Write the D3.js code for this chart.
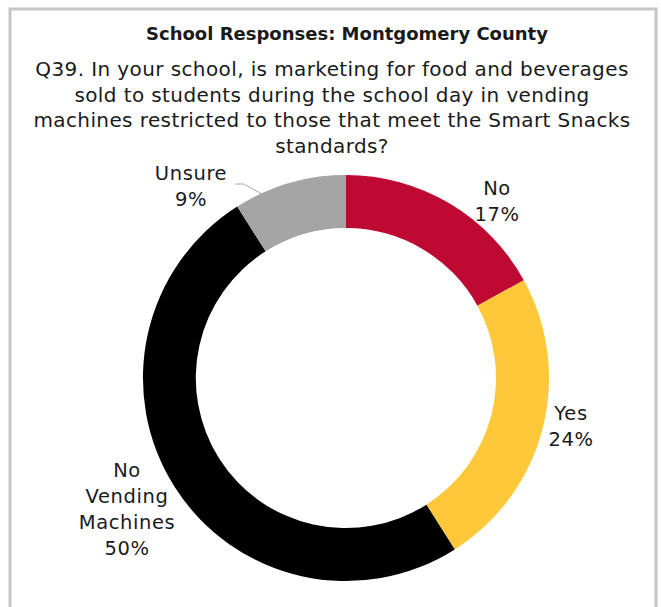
<!DOCTYPE html>
<html lang="en">
<head>
    <meta charset="UTF-8">
    <title>School Responses: Montgomery County</title>
    <script src="https://d3js.org/d3.v7.min.js"></script>
    <style>
        body { margin: 0; background: #fff; }
        text { font-family: "DejaVu Sans", sans-serif; fill: #1a1a1a; }
    </style>
</head>
<body>
<script>
    const width = 661;
    const height = 607;

    // data
    const categories = ["No", "Yes", "No Vending Machines", "Unsure"];
    const values = [17, 24, 50, 9];
    const colors = ["#BE0A33", "#FFC83A", "#000000", "#A5A5A5"];
    const title = "School Responses: Montgomery County";
    const question = [
        "Q39. In your school, is marketing for food and beverages",
        "sold to students during the school day in vending",
        "machines restricted to those that meet the Smart Snacks",
        "standards?"
    ];

    const svg = d3.select("body").append("svg")
            .attr("width", width).attr("height", height);

    // frame
    svg.append("rect")
        .attr("x", 10).attr("y", 9)
        .attr("width", 646).attr("height", 620)
        .attr("fill", "none")
        .attr("stroke", "#c6c6c6")
        .attr("stroke-width", 3);

    svg.append("text")
        .attr("x", 347).attr("y", 40)
        .attr("text-anchor", "middle")
        .style("font-size", "18px")
        .style("font-weight", "bold")
        .text(title);

    svg.selectAll("text.q")
        .data(question)
        .enter()
        .append("text")
        .attr("class", "q")
        .attr("x", 332)
        .attr("y", (d, i) => 76 + i * 25.7)
        .attr("text-anchor", "middle")
        .style("font-size", "20px")
        .style("letter-spacing", "0.4px")
        .text(d => d);

    const cx = 346, cy = 378;
    const outerR = 203, innerR = 150;

    const pie = d3.pie().sort(null).value(d => d.value);
    const arc = d3.arc().innerRadius(innerR).outerRadius(outerR);

    const slices = pie(categories.map((c, i) => ({name: c, value: values[i], color: colors[i]})));

    const g = svg.append("g").attr("transform", `translate(${cx},${cy})`);
    g.selectAll("path.slice")
        .data(slices)
        .enter()
        .append("path")
        .attr("class", "slice")
        .attr("d", arc)
        .attr("fill", d => d.data.color);

    // label positions (relative to centre)
    const labelPos = [
        {x: 151, y: -183, lines: ["No", "17%"]},
        {x: 225, y: 42, lines: ["Yes", "24%"]},
        {x: -219, y: 99, lines: ["No", "Vending", "Machines", "50%"]},
        {x: -155, y: -198, lines: ["Unsure", "9%"]}
    ];

    slices.forEach((s, i) => {
        const p = labelPos[i];
        const t = g.append("text")
            .attr("text-anchor", "middle")
            .style("font-size", "19.5px")
            .style("letter-spacing", "0.6px");
        p.lines.forEach((l, j) => {
            t.append("tspan")
                .attr("x", p.x)
                .attr("y", p.y + j * 26)
                .text(l);
        });
    });

    // leader line for Unsure
    const ang = -24.5 * Math.PI / 180;
    const ep = [Math.sin(ang) * (outerR - 1), -Math.cos(ang) * (outerR - 1)];
    g.append("polyline")
        .attr("points", [[-111, -194], [-102, -194], ep].map(p => p.join(",")).join(" "))
        .attr("fill", "none")
        .attr("stroke", "#a6a6a6")
        .attr("stroke-width", 1);
</script>
</body>
</html>
